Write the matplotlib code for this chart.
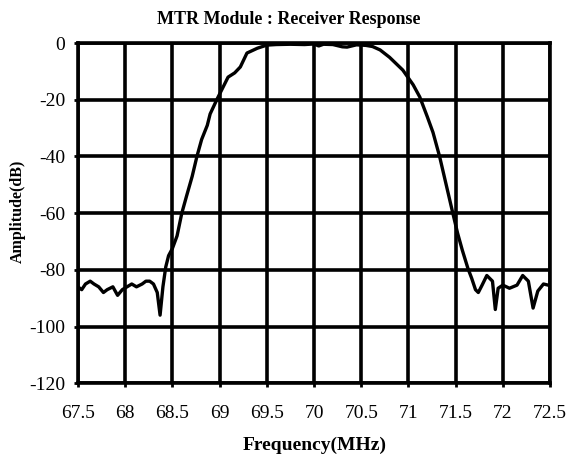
import matplotlib
matplotlib.use("Agg")
import matplotlib.pyplot as plt
import numpy as np

freq_mhz = [67.50, 67.54, 67.58, 67.63, 67.67, 67.72, 67.77, 67.81, 67.87, 67.92,
            67.97, 68.02, 68.07, 68.12, 68.18, 68.22, 68.26, 68.30, 68.34, 68.37,
            68.40, 68.43, 68.46, 68.50, 68.55, 68.60, 68.65, 68.71, 68.76, 68.81,
            68.87, 68.90, 68.97, 69.03, 69.09, 69.16, 69.22, 69.29, 69.40, 69.50,
            69.60, 69.75, 69.90, 70.00, 70.05, 70.10, 70.20, 70.30, 70.35, 70.45,
            70.55, 70.62, 70.70, 70.80, 70.94, 71.05, 71.12, 71.20, 71.26, 71.33,
            71.40, 71.47, 71.52, 71.57, 71.63, 71.67, 71.71, 71.74, 71.78, 71.83,
            71.89, 71.92, 71.95, 72.00, 72.07, 72.15, 72.21, 72.27, 72.32, 72.37,
            72.43, 72.48]
amp_db = [-86, -87, -85, -84, -85, -86, -88, -87, -86, -89,
          -87, -86, -85, -86, -85, -84, -84, -85, -88, -96,
          -86, -79, -75, -72.5, -68, -60, -54, -47, -40, -34,
          -29, -25, -20, -16, -12, -10.5, -8.4, -3.5, -1.8, -0.7,
          -0.5, -0.4, -0.5, -0.3, -1.0, -0.4, -0.5, -1.3, -1.4, -0.6,
          -0.8, -1.2, -2.4, -5, -9.5, -14.7, -19, -26, -31.5, -40,
          -50, -60, -67, -73, -79.5, -83, -87, -88, -85.4, -82,
          -84, -94, -86.5, -85.4, -86.5, -85.4, -82, -84, -93.5, -87.5,
          -85, -85.4]

x_ticks = [67.5, 68, 68.5, 69, 69.5, 70, 70.5, 71, 71.5, 72, 72.5]
x_tick_labels = ["67.5", "68", "68.5", "69", "69.5", "70", "70.5", "71", "71.5", "72", "72.5"]
y_ticks = [0, -20, -40, -60, -80, -100, -120]
y_tick_labels = ["0", "-20", "-40", "-60", "-80", "-100", "-120"]

plt.rcParams['font.family'] = ['Liberation Serif', 'DejaVu Serif']
plt.rcParams['axes.unicode_minus'] = False

fig = plt.figure(figsize=(5.73, 4.54), dpi=100)
ax = fig.add_axes([0.136, 0.156, 0.824, 0.749])

ax.plot(freq_mhz, amp_db, color='black', linewidth=2.4, solid_joinstyle='round')

ax.set_xlim(67.5, 72.5)
ax.set_ylim(-120, 0)
ax.set_xticks(x_ticks)
ax.set_xticklabels(x_tick_labels)
ax.set_yticks(y_ticks)
ax.set_yticklabels(y_tick_labels)
ax.grid(True, color='black', linewidth=2.6)
ax.set_axisbelow(True)
for s in ax.spines.values():
    s.set_linewidth(2.6)
ax.tick_params(axis='both', length=3, width=2, labelsize=14, direction='out')
ax.tick_params(axis='x', pad=13)
ax.tick_params(axis='y', pad=6)

fig.text(289 / 573, 1 - 20 / 454, "MTR Module : Receiver Response", fontsize=13,
         fontweight='bold', ha='center', va='center')
fig.text(315 / 573, 1 - 445 / 454, "Frequency(MHz)", fontsize=14,
         fontweight='bold', ha='center', va='center')
fig.text(18 / 573, 1 - 211 / 454, "Amplitude(dB)", fontsize=11.5,
         fontweight='bold', ha='center', va='center', rotation=90)

fig.savefig("out.png", dpi=100)
